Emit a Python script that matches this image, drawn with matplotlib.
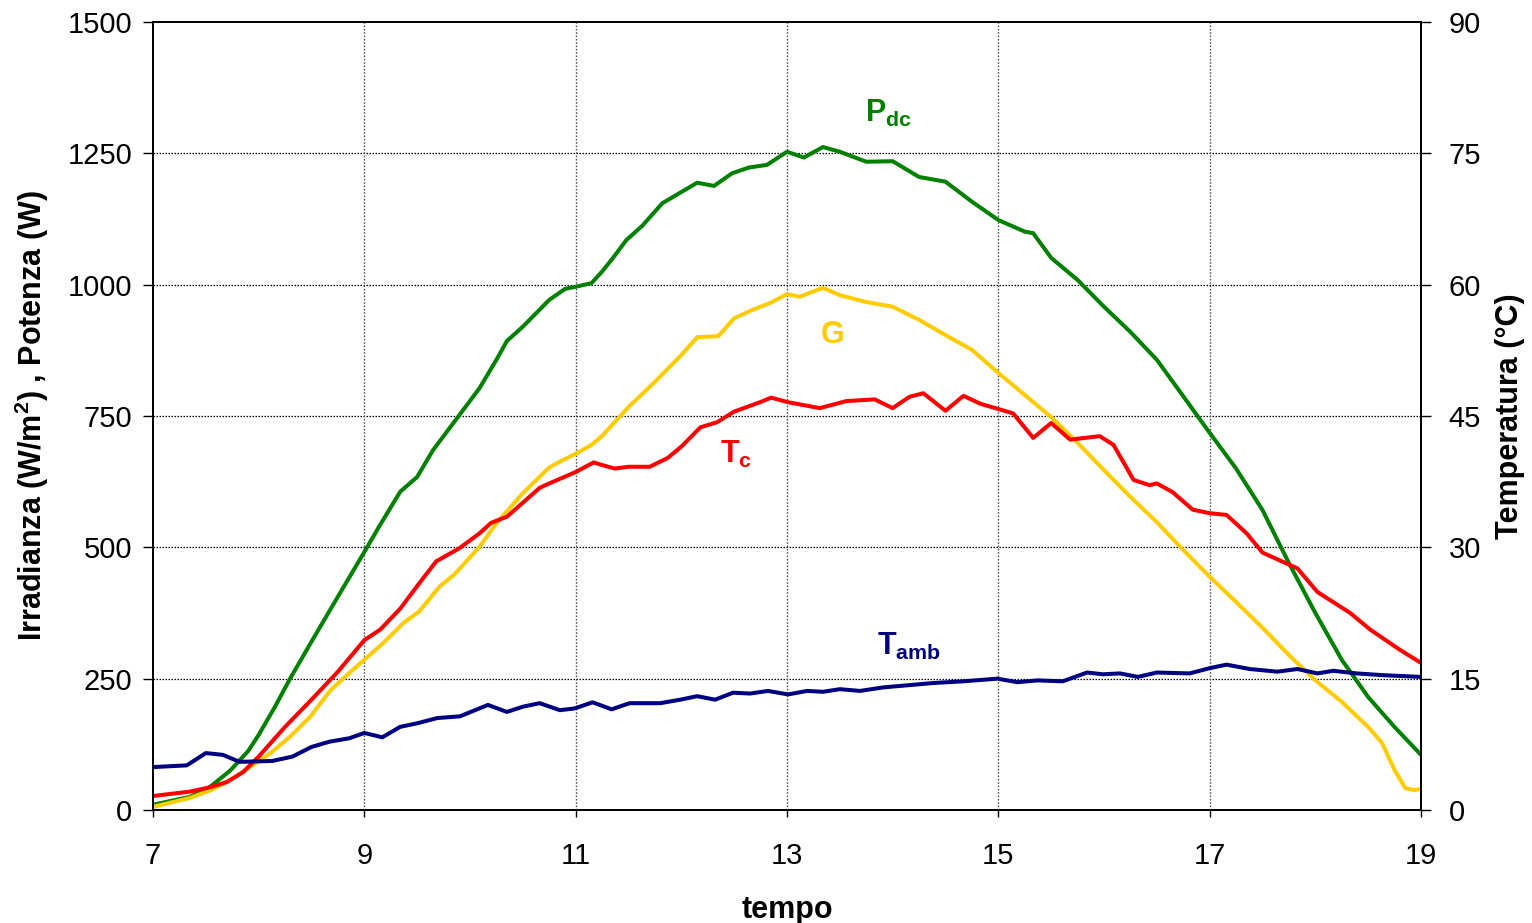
import matplotlib
matplotlib.use("Agg")
import matplotlib.pyplot as plt

plt.rcParams['font.family'] = ['Liberation Sans', 'DejaVu Sans']
plt.rcParams['mathtext.fontset'] = 'custom'
plt.rcParams['mathtext.rm'] = 'Liberation Sans'
plt.rcParams['mathtext.bf'] = 'Liberation Sans:bold'
plt.rcParams['mathtext.it'] = 'Liberation Sans:italic'

# ---------------- data ----------------
# Irradiance G (W/m2), left axis
t_G = [7.0, 7.35, 7.54, 7.73, 7.92, 8.11, 8.3, 8.49, 8.68, 8.87, 9.0, 9.18, 9.37, 9.52,
       9.71, 9.85, 10.09, 10.25, 10.5, 10.75, 10.85, 11.0, 11.15, 11.25, 11.5, 11.75, 12.0,
       12.15, 12.35, 12.5, 12.65, 12.85, 13.0, 13.12, 13.34, 13.5, 13.75, 14.0, 14.25,
       14.5, 14.75, 15.0, 15.25, 15.5, 15.75, 16.0, 16.25, 16.5, 16.75, 17.0, 17.25,
       17.5, 17.75, 18.0, 18.25, 18.5, 18.63, 18.75, 18.85, 18.93, 19.0]
G = [6, 23, 37, 57, 82, 108, 140, 178, 228, 263, 286, 318, 356, 378,
     425, 448, 501, 546, 603, 652, 663, 678, 695, 712, 767, 815, 866,
     900, 902, 936, 950, 966, 982, 977, 994, 980, 967, 958, 933,
     904, 876, 832, 790, 748, 699, 647, 596, 548, 495, 444, 396,
     347, 295, 247, 206, 158, 128, 76, 42, 38, 40]

# DC power Pdc (W), left axis
t_P = [7.0, 7.35, 7.54, 7.73, 7.9, 8.0, 8.15, 8.3, 8.51, 8.77, 9.02, 9.15, 9.34, 9.5,
       9.65, 9.9, 10.09, 10.25, 10.35, 10.5, 10.75, 10.9, 11.0, 11.15, 11.25, 11.35,
       11.48, 11.63, 11.82, 11.98, 12.15, 12.31, 12.48, 12.64, 12.81, 13.0, 13.16,
       13.34, 13.5, 13.75, 14.0, 14.25, 14.5, 14.75, 15.0, 15.25, 15.33, 15.5, 15.75,
       16.0, 16.25, 16.5, 16.72, 17.0, 17.25, 17.5, 17.75, 18.0, 18.25, 18.5, 18.75, 19.0]
Pdc = [10, 25, 44, 75, 112, 143, 195, 251, 324, 413, 498, 543, 606, 634,
       685, 752, 803, 857, 893, 920, 971, 992, 996, 1003, 1025, 1050,
       1085, 1112, 1155, 1174, 1194, 1188, 1212, 1223, 1228, 1253, 1242,
       1262, 1253, 1234, 1235, 1205, 1196, 1158, 1123, 1101, 1098, 1051, 1009,
       958, 910, 857, 796, 718, 650, 571, 470, 375, 286, 215, 158, 105]

# Cell temperature Tc (degC), right axis
t_Tc = [7.0, 7.35, 7.54, 7.7, 7.85, 8.0, 8.25, 8.5, 8.75, 9.0, 9.15, 9.34, 9.52, 9.68,
        9.9, 10.09, 10.2, 10.35, 10.5, 10.66, 10.75, 11.0, 11.17, 11.25, 11.37, 11.5,
        11.7, 11.87, 12.0, 12.18, 12.34, 12.5, 12.75, 12.85, 13.0, 13.31, 13.56, 13.83,
        14.0, 14.16, 14.29, 14.5, 14.67, 14.83, 15.14, 15.33, 15.5, 15.68, 15.96, 16.09,
        16.28, 16.43, 16.5, 16.65, 16.84, 17.0, 17.16, 17.35, 17.5, 17.83, 18.02, 18.33,
        18.52, 18.8, 19.0]
Tc = [1.6, 2.1, 2.6, 3.2, 4.3, 6.1, 9.5, 12.6, 15.8, 19.4, 20.6, 23.0, 25.9, 28.4,
      29.9, 31.6, 32.8, 33.5, 35.1, 36.8, 37.3, 38.6, 39.7, 39.4, 39.0, 39.2,
      39.2, 40.2, 41.5, 43.7, 44.3, 45.5, 46.6, 47.1, 46.6, 45.9, 46.7, 46.9,
      45.9, 47.2, 47.6, 45.6, 47.3, 46.4, 45.3, 42.5, 44.2, 42.3, 42.7, 41.7,
      37.7, 37.1, 37.3, 36.3, 34.3, 33.9, 33.7, 31.6, 29.4, 27.6, 24.9, 22.5,
      20.6, 18.3, 16.8]

# Ambient temperature Tamb (degC), right axis
t_Ta = [7.0, 7.32, 7.5, 7.66, 7.82, 8.13, 8.32, 8.5, 8.67, 8.86, 9.0, 9.17, 9.34, 9.5,
        9.69, 9.905, 10.17, 10.35, 10.5, 10.66, 10.85, 10.99, 11.16, 11.34, 11.51, 11.8,
        11.99, 12.15, 12.32, 12.49, 12.65, 12.82, 13.01, 13.19, 13.34, 13.5, 13.69, 13.91,
        14.38, 14.67, 14.99, 15.18, 15.37, 15.61, 15.84, 15.99, 16.15, 16.32, 16.5, 16.81,
        17.0, 17.16, 17.38, 17.64, 17.83, 18.02, 18.17, 18.39, 18.64, 19.0]
Tamb = [4.9, 5.1, 6.5, 6.3, 5.5, 5.6, 6.1, 7.2, 7.8, 8.2, 8.8, 8.3, 9.5, 9.9,
        10.5, 10.7, 12.0, 11.2, 11.8, 12.2, 11.4, 11.6, 12.3, 11.5, 12.2, 12.2,
        12.6, 13.0, 12.6, 13.4, 13.3, 13.6, 13.2, 13.6, 13.5, 13.8, 13.6, 14.0,
        14.5, 14.7, 15.0, 14.6, 14.8, 14.7, 15.7, 15.5, 15.6, 15.2, 15.7, 15.6,
        16.2, 16.6, 16.1, 15.8, 16.1, 15.6, 15.9, 15.6, 15.4, 15.2]

x_ticks = [7, 9, 11, 13, 15, 17, 19]
y_left_ticks = [0, 250, 500, 750, 1000, 1250, 1500]
y_right_ticks = [0, 15, 30, 45, 60, 75, 90]

# ---------------- figure ----------------
W, H = 1532, 923
fig = plt.figure(figsize=(W / 100, H / 100), dpi=100)
ax = fig.add_axes([153 / W, 1 - 810 / H, (1421 - 153) / W, (810 - 22) / H])
ax2 = ax.twinx()

lw = 2.9
kw = dict(lw=lw, solid_joinstyle='round', solid_capstyle='round')
ax.plot(t_P, Pdc, color='#008000', **kw)
ax.plot(t_G, G, color='#FFCC00', **kw)
ax2.plot(t_Tc, Tc, color='#FF0000', **kw)
ax2.plot(t_Ta, Tamb, color='#000080', **kw)

ax.set_xlim(7, 19)
ax.set_ylim(0, 1500)
ax2.set_ylim(0, 90)
ax.set_xticks(x_ticks)
ax.set_yticks(y_left_ticks)
ax2.set_yticks(y_right_ticks)

# grid
for v in y_left_ticks[1:-1]:
    ax.axhline(v, color='black', lw=0.9, ls=(0, (1.2, 1.2)), zorder=0.5)
for v in x_ticks[1:-1]:
    ax.axvline(v, color='#555555', lw=1.0, ls=(0, (1.2, 1.2)), zorder=0.5)

for a in (ax, ax2):
    for s in a.spines.values():
        s.set_linewidth(1.3)
        s.set_color('black')
ax.tick_params(axis='y', direction='out', length=7, width=1, labelsize=21, pad=8)
ax.tick_params(axis='x', direction='out', length=5, width=1, labelsize=21, pad=18)
ax2.tick_params(axis='y', direction='out', length=7, width=1, labelsize=21, pad=13)

ax.set_xlabel('tempo', fontsize=22, fontweight='bold', labelpad=18)
ax.set_ylabel(r'Irradianza (W/m$^{\mathbf{2}}$) , Potenza (W)', fontsize=22,
              fontweight='bold', labelpad=12)
ax2.set_ylabel('Temperatura (°C)', fontsize=22, fontweight='bold', labelpad=10)

# series labels
ax.text(13.74, 1325, r'$\mathbf{P}_{\mathbf{dc}}$', color='#008000', fontsize=22,
        ha='left', va='center')
ax.text(13.43, 905, 'G', color='#FFCC00', fontsize=22, fontweight='bold',
        ha='center', va='center')
ax.text(12.37, 676, r'$\mathbf{T}_{\mathbf{c}}$', color='#FF0000', fontsize=22,
        ha='left', va='center')
ax.text(13.85, 312, r'$\mathbf{T}_{\mathbf{amb}}$', color='#000080', fontsize=22,
        ha='left', va='center')

fig.savefig('out.png', dpi=100)
